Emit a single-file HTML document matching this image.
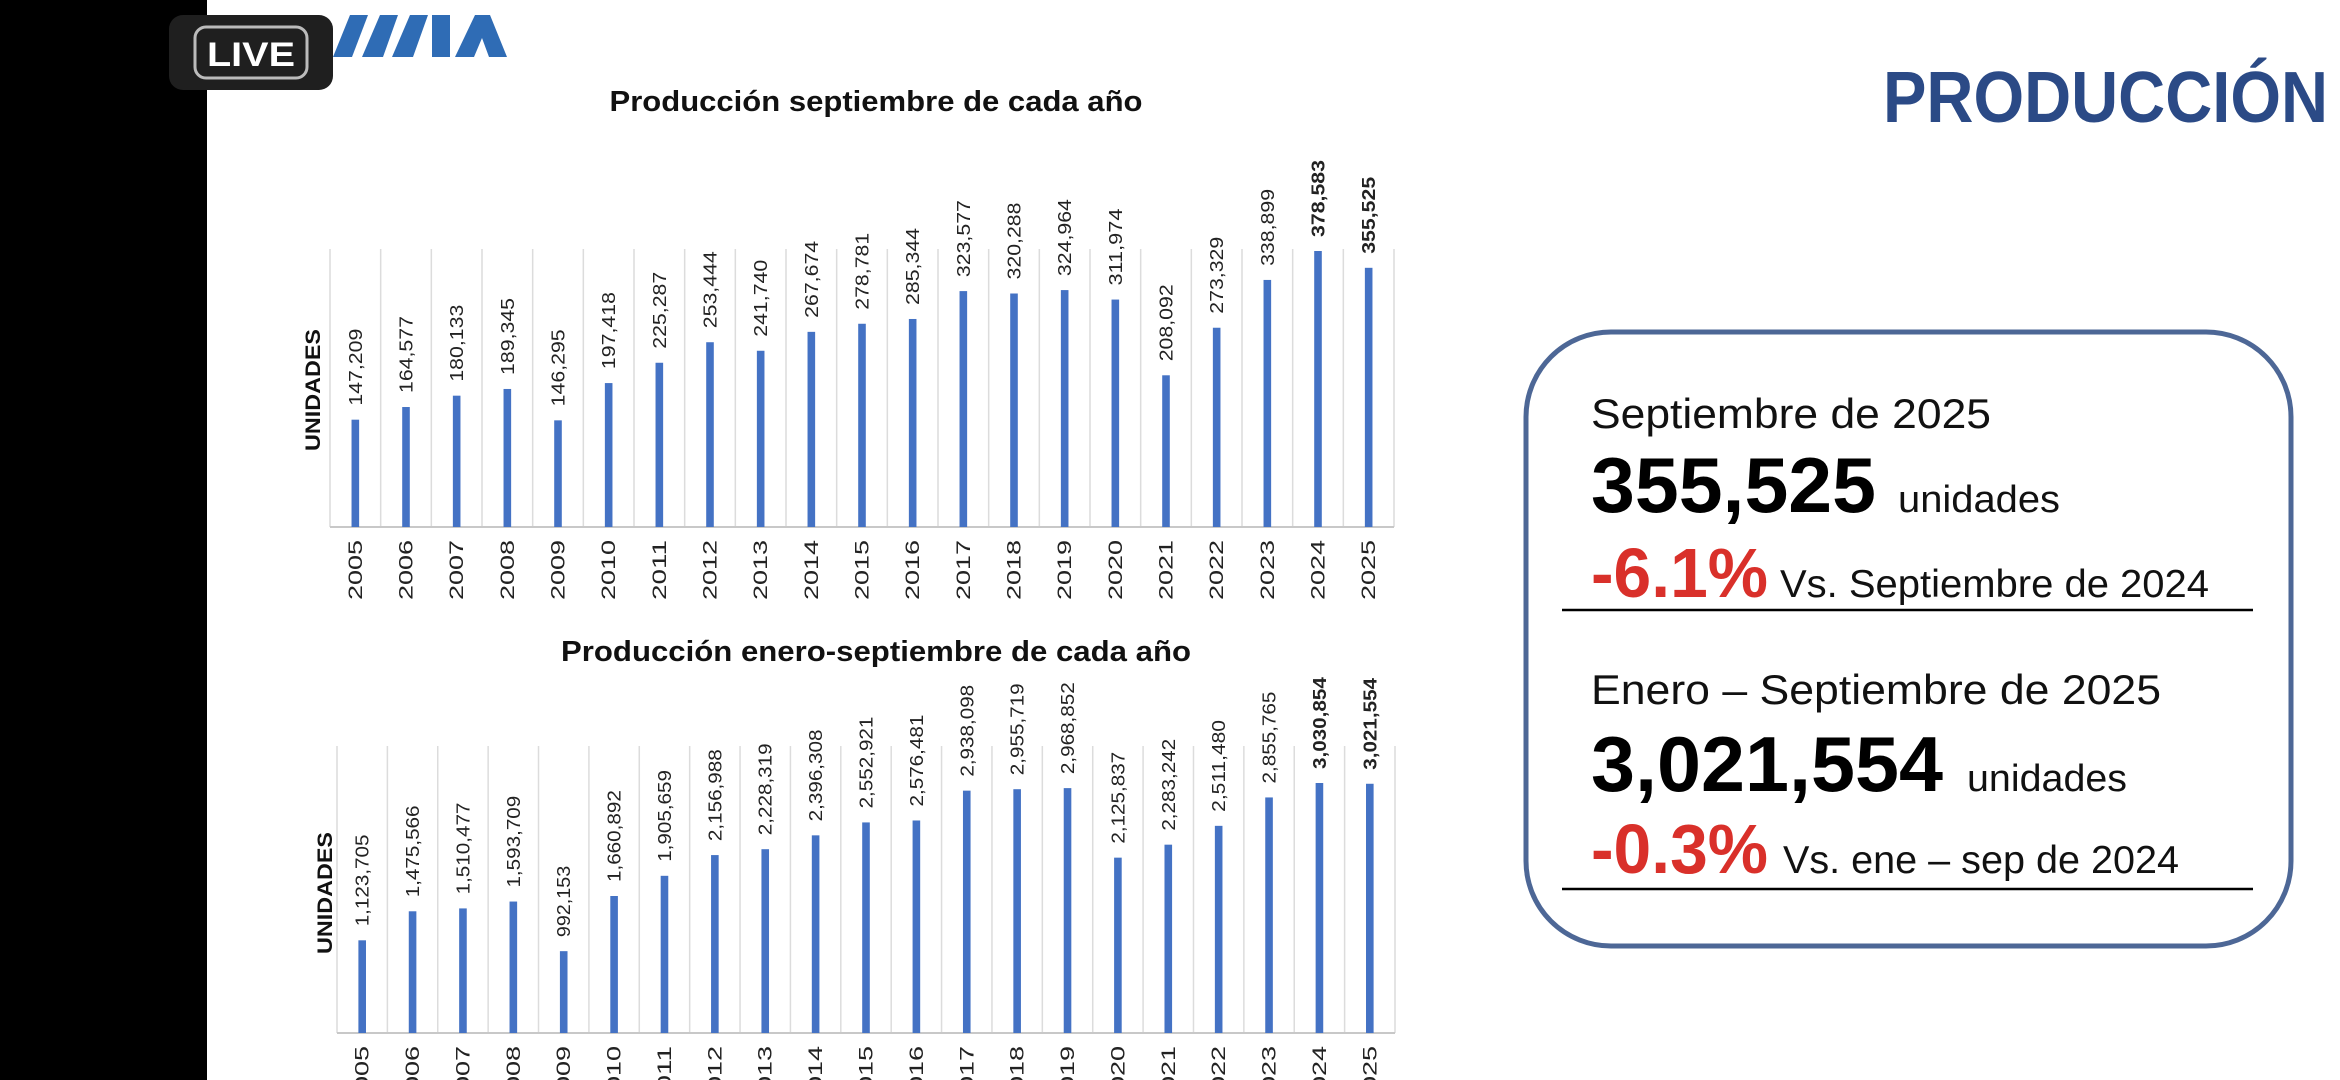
<!DOCTYPE html>
<html><head><meta charset="utf-8"><style>
html,body{margin:0;padding:0;width:2340px;height:1080px;overflow:hidden;background:#fff}
svg{display:block}
text{font-family:"Liberation Sans",sans-serif}
</style></head><body>
<svg id="s" width="2340" height="1080" viewBox="0 0 2340 1080">
<rect x="0" y="0" width="207" height="1080" fill="#000"/>
<g>
<rect x="169" y="15" width="164" height="75" rx="14" fill="#1f1f1f"/>
<rect x="195" y="27" width="112" height="51" rx="11" fill="none" stroke="#bbb" stroke-width="3"/>
<text x="251" y="66" text-anchor="middle" font-size="34" font-weight="bold" fill="#fff" textLength="88" lengthAdjust="spacingAndGlyphs">LIVE</text>
</g>
<g fill="#2f6cb5">
<polygon points="333,57 350,15 368,15 352,57"/>
<polygon points="362,57 380,15 398,15 383,57"/>
<polygon points="392,57 410,15 428,15 413,57"/>
<rect x="432" y="15" width="18" height="42"/>
<polygon points="455,57 475,15 490,15 507,57 489,57 482,38 474,57"/>
</g>
<text x="1883" y="122" font-size="72" font-weight="bold" fill="#2b4a86" textLength="445" lengthAdjust="spacingAndGlyphs">PRODUCCIÓN</text>

<text x="876" y="111" text-anchor="middle" font-size="29" font-weight="bold" fill="#111" textLength="533" lengthAdjust="spacingAndGlyphs">Producción septiembre de cada año</text>
<text x="876" y="661" text-anchor="middle" font-size="29" font-weight="bold" fill="#111" textLength="630" lengthAdjust="spacingAndGlyphs">Producción enero-septiembre de cada año</text>
<text transform="translate(320,390) rotate(-90)" text-anchor="middle" font-size="21" font-weight="bold" fill="#111" textLength="122" lengthAdjust="spacingAndGlyphs">UNIDADES</text>
<text transform="translate(332,893) rotate(-90)" text-anchor="middle" font-size="21" font-weight="bold" fill="#111" textLength="122" lengthAdjust="spacingAndGlyphs">UNIDADES</text>
<g id="c1"></g>
<g id="c2"></g>

<g>
<rect x="1526" y="332" width="765" height="614" rx="85" fill="#fff" stroke="#4d6796" stroke-width="5"/>
<text x="1591" y="428" font-size="42" fill="#111" textLength="400" lengthAdjust="spacingAndGlyphs">Septiembre de 2025</text>
<text x="1591" y="512" font-size="78" font-weight="bold" fill="#000" textLength="285" lengthAdjust="spacingAndGlyphs">355,525</text>
<text x="1898" y="512" font-size="38" fill="#111" textLength="162" lengthAdjust="spacingAndGlyphs">unidades</text>
<text x="1591" y="597" font-size="70" font-weight="bold" fill="#d9302a" textLength="177" lengthAdjust="spacingAndGlyphs">-6.1%</text>
<text x="1780" y="597" font-size="39" fill="#111" textLength="429" lengthAdjust="spacingAndGlyphs">Vs. Septiembre de 2024</text>
<line x1="1562" y1="610" x2="2253" y2="610" stroke="#000" stroke-width="2.5"/>
<text x="1591" y="704" font-size="42" fill="#111" textLength="570" lengthAdjust="spacingAndGlyphs">Enero – Septiembre de 2025</text>
<text x="1591" y="791" font-size="78" font-weight="bold" fill="#000" textLength="352" lengthAdjust="spacingAndGlyphs">3,021,554</text>
<text x="1967" y="791" font-size="38" fill="#111" textLength="160" lengthAdjust="spacingAndGlyphs">unidades</text>
<text x="1591" y="873" font-size="70" font-weight="bold" fill="#d9302a" textLength="177" lengthAdjust="spacingAndGlyphs">-0.3%</text>
<text x="1783" y="873" font-size="39" fill="#111" textLength="396" lengthAdjust="spacingAndGlyphs">Vs. ene – sep de 2024</text>
<line x1="1562" y1="889" x2="2253" y2="889" stroke="#000" stroke-width="2.5"/>
</g>
</svg>
<script>
const years = ["2005","2006","2007","2008","2009","2010","2011","2012","2013","2014","2015","2016","2017","2018","2019","2020","2021","2022","2023","2024","2025"];
const sepValues = [147209,164577,180133,189345,146295,197418,225287,253444,241740,267674,278781,285344,323577,320288,324964,311974,208092,273329,338899,378583,355525];
const ytdValues = [1123705,1475566,1510477,1593709,992153,1660892,1905659,2156988,2228319,2396308,2552921,2576481,2938098,2955719,2968852,2125837,2283242,2511480,2855765,3030854,3021554];
const boldYears = ["2024","2025"];
const NS="http://www.w3.org/2000/svg";
function mk(tag,attrs,parent){const e=document.createElementNS(NS,tag);for(const k in attrs)e.setAttribute(k,attrs[k]);parent.appendChild(e);return e;}
function fmt(v){return v.toLocaleString("en-US");}
function draw(g,vals,cfg){
  const n=years.length, step=(cfg.x1-cfg.x0)/n;
  const xs=i=>cfg.x0+step*(i+0.5);
  const ys=v=>cfg.base-v*cfg.k;
  for(let i=0;i<=n;i++){
    const l=mk("line",{x1:cfg.x0+step*i,x2:cfg.x0+step*i,y1:cfg.top,y2:cfg.base,stroke:"#dcdcdc","stroke-width":1.5},g);
    
    
  }
  const ax=mk("line",{x1:cfg.x0,x2:cfg.x1,y1:cfg.base,y2:cfg.base,stroke:"#c8c8c8","stroke-width":2},g);
  
  
  vals.forEach((v,i)=>{
    const x=xs(i), y=ys(v);
    const b=mk("rect",{x:x-3.8,y:y,width:7.6,height:cfg.base-y,fill:"#4472c4"},g);
    
    
    const bold=boldYears.includes(years[i]);
    const s=fmt(v);
    const t=mk("text",{transform:`translate(${x+6.5},${y-14}) rotate(-90)`,"font-size":18,fill:"#222","font-weight":bold?"bold":"normal",textLength:s.length*cfg.cw,lengthAdjust:"spacingAndGlyphs"},g);
    t.textContent=s;
    
    
    const yl=mk("text",{transform:`translate(${x+6.5},${cfg.base+73}) rotate(-90)`,"font-size":19,fill:"#222",textLength:60,lengthAdjust:"spacingAndGlyphs"},g);
    yl.textContent=years[i];
    
    
  });
}
draw(document.getElementById("c1"),sepValues,{x0:330,x1:1394,top:249,base:527,k:276/378583,cw:11});
draw(document.getElementById("c2"),ytdValues,{x0:337,x1:1395,top:746,base:1033,k:250/3030854,cw:10.2});
</script>
</body></html>
